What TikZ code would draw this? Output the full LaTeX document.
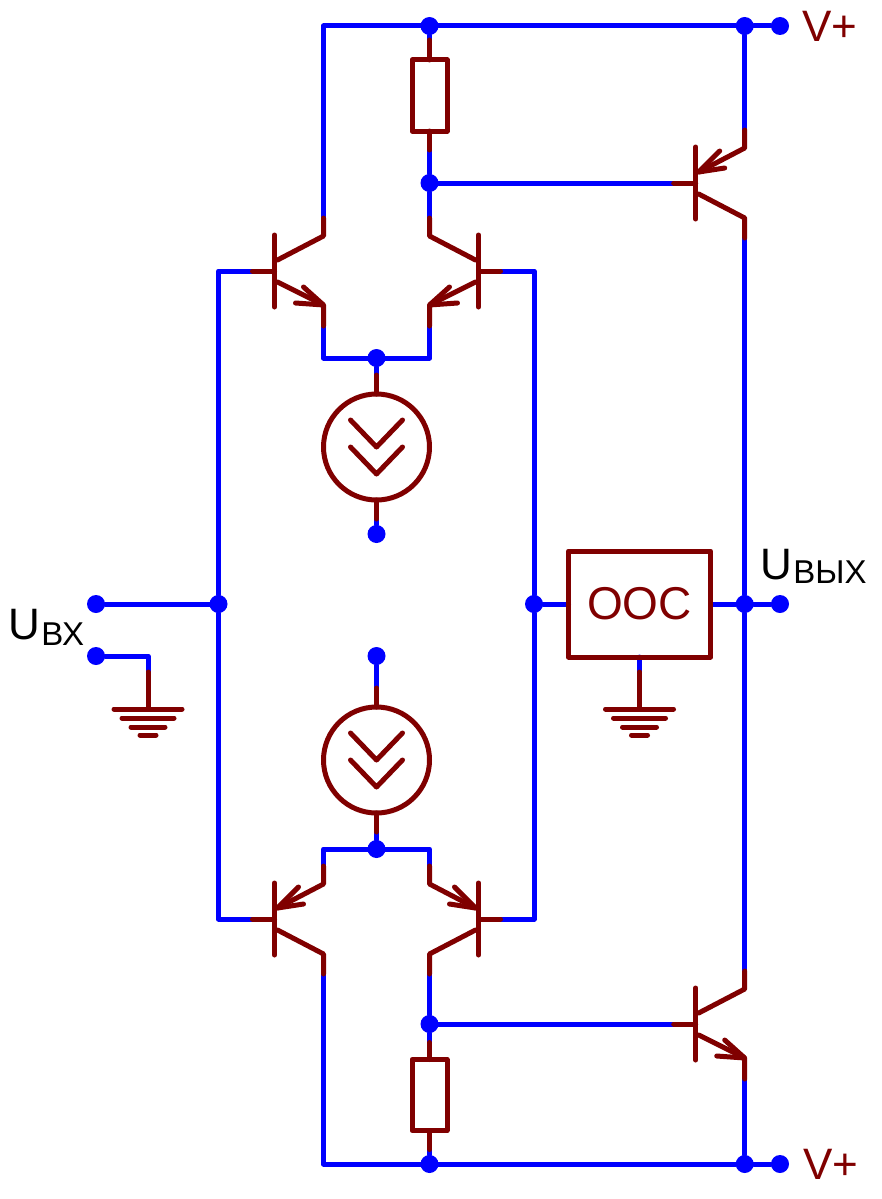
\documentclass[tikz,border=0pt]{standalone}
\usepackage{fontspec}
\setmainfont{Liberation Sans}
\usetikzlibrary{positioning,backgrounds}

\definecolor{wireblue}{RGB}{0,0,255}
\definecolor{partred}{RGB}{128,0,0}

\tikzset{
  wire/.style={draw=wireblue, line width=5pt, line cap=round, line join=round},
  lead/.style={draw=partred, line width=5pt, line cap=round, line join=round},
  dot/.style={circle, fill=wireblue, inner sep=0pt, minimum size=18pt},
  resistor/.style={rectangle, lead, inner sep=0pt, outer sep=0pt, minimum width=35pt, minimum height=71pt},
  source/.style={circle, lead, inner sep=0pt, outer sep=0pt, minimum size=106pt},
  feedback/.style={rectangle, lead, inner sep=0pt, outer sep=0pt, minimum width=142pt, minimum height=106pt,
    text=partred, font=\fontsize{46}{46}\selectfont},
  vlabel/.style={inner sep=0pt, text=partred, font=\fontsize{44}{44}\selectfont},
  ulabel/.style={inner sep=0pt, anchor=base west, font=\fontsize{44}{44}\selectfont}
}

% emitter at the bottom, arrow away from the bar
\newcommand{\qout}[4]{
  \begin{scope}[shift={(#2,#3)},xscale=#4]
    \draw[lead] (0,-36) -- (0,36);
    \draw[lead] (0,0) -- (-22,0) coordinate (#1b);
    \draw[lead] (3,-11) -- (49,-35) -- (49,-53) coordinate (#1c);
    \draw[lead] (3,11) -- (49,34) -- (49,55) coordinate (#1e);
    \draw[lead] (29,16) -- (49,34) -- (21,32);
  \end{scope}
}
% emitter at the top, arrow into the bar
\newcommand{\qin}[4]{
  \begin{scope}[shift={(#2,#3)},xscale=#4]
    \draw[lead] (0,-36) -- (0,36);
    \draw[lead] (0,0) -- (-22,0) coordinate (#1b);
    \draw[lead] (3,-11) -- (49,-35) -- (49,-53) coordinate (#1e);
    \draw[lead] (3,11) -- (49,35) -- (49,55) coordinate (#1c);
    \draw[lead] (24,-32) -- (3,-11) -- (29,-15);
  \end{scope}
}
\newcommand{\chevrons}[1]{
  \foreach \d in {-27,0} \draw[lead,shift={(#1)}] (-26,\d) -- (0,\d+27) -- (26,\d);
}
\newcommand{\gndbars}[1]{
  \foreach \w/\d in {34/0,26/9,17/18,8/26} \draw[lead,shift={(#1)}] (-\w,\d) -- (\w,\d);
}

\begin{document}
\begin{tikzpicture}[x=1pt,y=-1pt]
  \useasboundingbox (0,0) rectangle (882,1199);

  % junctions
  \node[dot] (dtopa) at (429.5,26) {};
  \node[dot] (dtopb) at (744.7,26) {};
  \node[dot] (dtopc) at (780,26) {};
  \node[dot] (dbasea) at (429.5,183) {};
  \node[dot] (dsrca) at (376.5,358) {};
  \node[dot] (dsrcb) at (376.5,534) {};
  \node[dot] (dina) at (96,604) {};
  \node[dot] (dinb) at (96,656) {};
  \node[dot] (dleft) at (218.5,604) {};
  \node[dot] (dright) at (534,604) {};
  \node[dot] (doutl) at (744.7,604) {};
  \node[dot] (doutr) at (780,604) {};
  \node[dot] (dsnka) at (376.5,656) {};
  \node[dot] (dsnkb) at (376.5,849) {};
  \node[dot] (dbaseb) at (429.5,1024) {};
  \node[dot] (dbota) at (429.5,1164) {};
  \node[dot] (dbotb) at (744.7,1164) {};
  \node[dot] (dbotc) at (780,1164) {};

  % parts
  \node[resistor] (resa) at (429.5,95.5) {};
  \node[resistor] (resb) at (429.5,1095) {};
  \node[source] (srca) at (376.5,447) {};
  \node[source] (srcb) at (376.5,760) {};
  \node[feedback] (ooc) at (639.5,604) {OOC};
  \coordinate (gnda) at (148,709);
  \coordinate (gndb) at (639.5,709);

  \node[vlabel, right=13pt of dtopc] (vtop) {V+};
  \node[vlabel, right=14pt of dbotc] (vbot) {V+};
  \node[ulabel] (uin) at (8.5,639) {U\kern1pt\raisebox{-6pt}{\fontsize{33}{33}\selectfont ВХ}};
  \node[ulabel] (uout) at (760.5,579) {U\kern1pt\raisebox{-4pt}{\fontsize{33}{33}\selectfont ВЫХ}};

  \draw[lead] (resa.north) -- ++(0,-20) coordinate (resat);
  \draw[lead] (resa.south) -- ++(0,19) coordinate (resab);
  \draw[lead] (resb.north) -- ++(0,-17) coordinate (resbt);
  \draw[lead] (resb.south) -- ++(0,19) coordinate (resbb);
  \draw[lead] (srca.north) -- ++(0,-19) coordinate (srcat);
  \draw[lead] (srca.south) -- ++(0,19) coordinate (srcab);
  \draw[lead] (srcb.north) -- ++(0,-19) coordinate (srcbt);
  \draw[lead] (srcb.south) -- ++(0,19) coordinate (srcbb);
  \draw[lead] (gnda) -- ++(0,-37) coordinate (gndat);
  \draw[lead] (gndb) -- ++(0,-37) coordinate (gndbt);
  \gndbars{gnda}
  \gndbars{gndb}
  \chevrons{srca}
  \chevrons{srcb}

  \qout{qa}{274.5}{271}{1}
  \qout{qb}{478.5}{271}{-1}
  \qin{qc}{695.7}{183}{1}
  \qin{qd}{274.5}{919}{1}
  \qin{qe}{478.5}{919}{-1}
  \qout{qf}{695.7}{1024}{1}

  % wires go under the parts
  \begin{pgfonlayer}{background}
    \draw[wire] (qac) |- (dtopa);
    \draw[wire] (dtopa) -- (dtopb) -- (dtopc);
    \draw[wire] (dtopa) -- (resat);
    \draw[wire] (resab) -- (dbasea);
    \draw[wire] (dbasea) -- (qbc);
    \draw[wire] (dbasea) -- (qcb);
    \draw[wire] (dtopb) -- (qce);
    \draw[wire] (qcc) -- (doutl);
    \draw[wire] (qab) -| (dleft);
    \draw[wire] (qdb) -| (dleft);
    \draw[wire] (qbb) -| (dright);
    \draw[wire] (qeb) -| (dright);
    \draw[wire] (qae) |- (dsrca);
    \draw[wire] (qbe) |- (dsrca);
    \draw[wire] (dsrca) -- (srcat);
    \draw[wire] (srcab) -- (dsrcb);
    \draw[wire] (dina) -- (dleft);
    \draw[wire] (dinb) -| (gndat);
    \draw[wire] (dright) -- (ooc.west);
    \draw[wire] (ooc.east) -- (doutl) -- (doutr);
    \draw[wire] (ooc.south) -- (gndbt);
    \draw[wire] (dsnka) -- (srcbt);
    \draw[wire] (srcbb) -- (dsnkb);
    \draw[wire] (qde) |- (dsnkb);
    \draw[wire] (qee) |- (dsnkb);
    \draw[wire] (qdc) |- (dbota);
    \draw[wire] (qec) -- (dbaseb);
    \draw[wire] (dbaseb) -- (qfb);
    \draw[wire] (dbaseb) -- (resbt);
    \draw[wire] (resbb) -- (dbota);
    \draw[wire] (dbota) -- (dbotb) -- (dbotc);
    \draw[wire] (doutl) -- (qfc);
    \draw[wire] (qfe) -- (dbotb);
  \end{pgfonlayer}
\end{tikzpicture}
\end{document}
